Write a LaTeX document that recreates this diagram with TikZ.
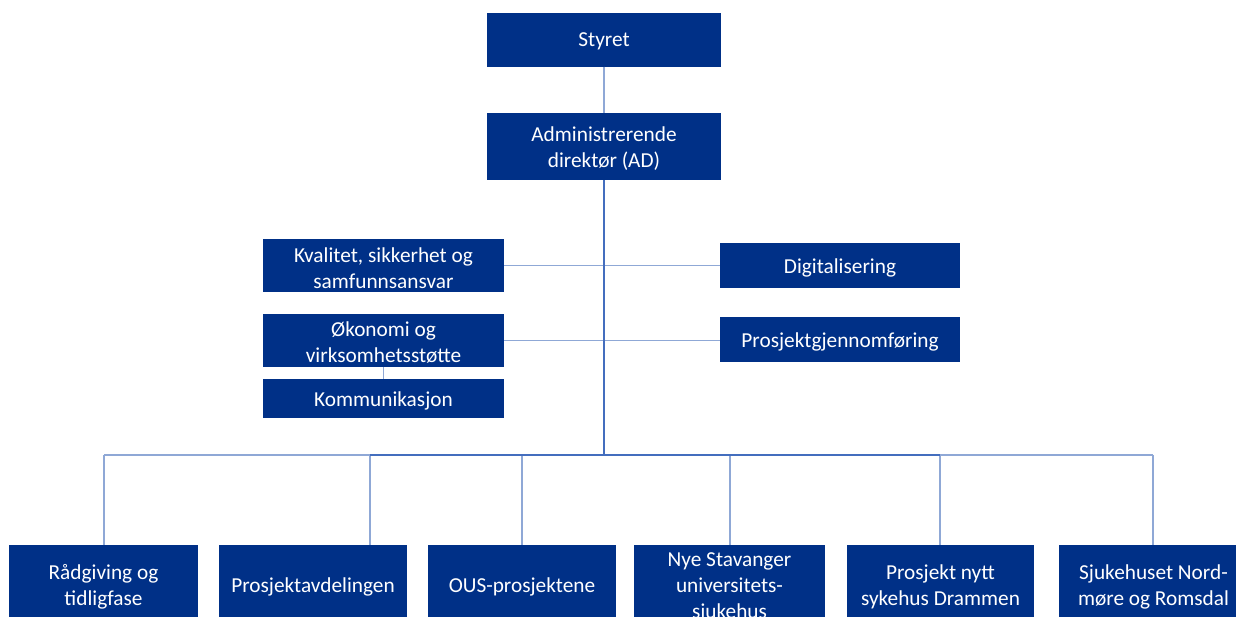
\documentclass[tikz,border=0pt]{standalone}
\usepackage{fontspec}
\setmainfont{Carlito}
\definecolor{boxblue}{RGB}{0,48,135}
\definecolor{lightline}{RGB}{143,168,214}
\definecolor{midline}{RGB}{68,110,190}
\tikzset{
  orgbox/.style={fill=boxblue, draw=none, inner sep=0pt},
  orgtext/.style={text=white, align=center, inner sep=0pt,
    font=\fontsize{21.3}{26}\selectfont},
  thinline/.style={draw=lightline, line width=1.3pt},
  mainline/.style={draw=midline, line width=1.8pt}
}
\newcommand{\orgnode}[6]{%
  \node[orgbox, minimum width=#4pt, minimum height=#5pt] (#1) at (#2,#3) {};
  \node[orgtext] (#1-t) at ([yshift=-2.2pt]#1.center) {#6};}
\begin{document}
\begin{tikzpicture}[x=1pt,y=-1pt]
\useasboundingbox (0,0) rectangle (1236,616);
\clip (0,0) rectangle (1236,616);
% top
\orgnode{sty}{604}{39.5}{234}{54}{Styret}
\orgnode{ad}{604}{146.5}{234}{67}{Administrerende\\direktør (AD)}
% staff
\orgnode{kval}{383.5}{265.5}{241}{53}{Kvalitet, sikkerhet og\\samfunnsansvar}
\orgnode{dig}{840}{265.5}{240}{45}{Digitalisering}
\orgnode{oko}{383.5}{340.5}{241}{53}{Økonomi og\\virksomhetsstøtte}
\orgnode{pg}{840}{339.5}{240}{45}{Prosjektgjennomføring}
\orgnode{kom}{383.5}{398.5}{241}{39}{Kommunikasjon}
% bottom
\orgnode{rad}{103.5}{585}{189}{80}{Rådgiving og\\tidligfase}
\orgnode{pa}{313}{585}{188}{80}{Prosjektavdelingen}
\orgnode{ous}{522}{585}{188}{80}{OUS-prosjektene}
\orgnode{nye}{729.5}{585}{191}{80}{Nye Stavanger\\universitets-\\sjukehus}
\orgnode{pn}{940.5}{585}{187}{80}{Prosjekt nytt\\sykehus Drammen}
\orgnode{sj}{1153.5}{585}{189}{80}{Sjukehuset Nord-\\møre og Romsdal}
% bus coordinates
\coordinate (hub) at (604,455);
\coordinate (b1) at (104,455);
\coordinate (b2) at (370,455);
\coordinate (b3) at (522,455);
\coordinate (b4) at (730,455);
\coordinate (b5) at (940,455);
\coordinate (b6) at (1153,455);
% connectors
\draw[thinline] (sty.south) -- (ad.north);
\draw[thinline] (kval.east) -- (kval.east -| dig.west);
\draw[thinline] (oko.east) -- (oko.east -| pg.west);
\draw[thinline] (oko.south) -- (kom.north);
\draw[thinline] (b1) -- (b2);
\draw[thinline] (b5) -- (b6);
\draw[thinline] (b1) -- (b1 |- rad.north);
\draw[thinline] (b2) -- (b2 |- pa.north);
\draw[thinline] (b3) -- (ous.north);
\draw[thinline] (b4) -- (b4 |- nye.north);
\draw[thinline] (b5) -- (b5 |- pn.north);
\draw[thinline] (b6) -- (b6 |- sj.north);
\draw[mainline] (b2) -- (b5);
\draw[mainline] (ad.south) -- (hub);
\end{tikzpicture}
\end{document}
